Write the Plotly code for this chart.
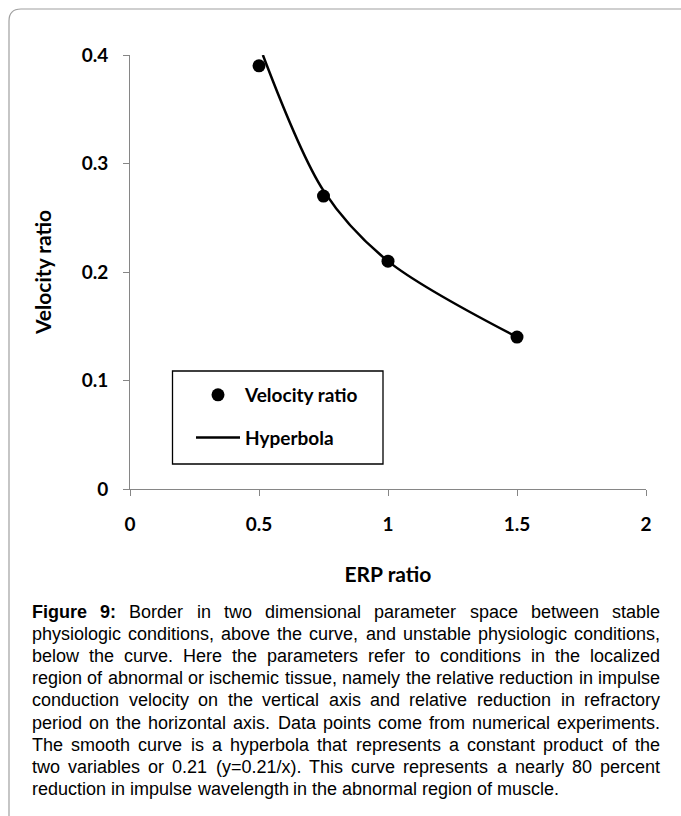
import plotly.graph_objects as go

# Results of the numerical experiments
erp_ratio = [0.5, 0.75, 1.0, 1.5]
velocity_ratio = [0.39, 0.27, 0.21, 0.14]

# Hyperbola y = 0.21/x over the plotted range (clipped at the top of the axis)
hyp_x = [0.515, 0.75, 1.0, 1.5]
hyp_y = [0.40, 0.275, 0.21, 0.14]

x_ticks = [0, 0.5, 1, 1.5, 2]
x_tick_labels = ["0", "0.5", "1", "1.5", "2"]
y_ticks = [0, 0.1, 0.2, 0.3, 0.4]
y_tick_labels = ["0", "0.1", "0.2", "0.3", "0.4"]

caption_lines = [
    "Figure 9: Border in two dimensional parameter space between stable",
    "physiologic conditions, above the curve, and unstable physiologic conditions,",
    "below the curve. Here the parameters refer to conditions in the localized",
    "region of abnormal or ischemic tissue, namely the relative reduction in impulse",
    "conduction velocity on the vertical axis and relative reduction in refractory",
    "period on the horizontal axis. Data points come from numerical experiments.",
    "The smooth curve is a hyperbola that represents a constant product of the",
    "two variables or 0.21 (y=0.21/x). This curve represents a nearly 80 percent",
    "reduction in impulse wavelength in the abnormal region of muscle.",
]
caption_bold_words = 2  # "Figure 9:" is set in bold

# ---- page geometry (pixels) ----
W, H = 681, 816
PL, PR, PT, PB = 130, 646, 55, 489


def fx(p):
    return (p - PL) / (PR - PL)


def fy(p):
    return (PB - p) / (PB - PT)


CHART_FONT = "Lato, 'Open Sans', sans-serif"
TEXT_FONT = "'Liberation Sans', Arial, sans-serif"

fig = go.Figure()

fig.add_trace(go.Scatter(
    x=erp_ratio, y=velocity_ratio, mode="markers", name="Velocity ratio",
    marker=dict(color="black", size=13), legendgroup="a", cliponaxis=False,
))
fig.add_trace(go.Scatter(
    x=hyp_x, y=hyp_y, mode="lines", name="Hyperbola",
    line=dict(color="black", width=2.5, shape="spline", smoothing=0.9),
    legendgroup="b", cliponaxis=False,
))

axis_common = dict(
    showline=True, linecolor="#868686", linewidth=1, mirror=False,
    ticks="outside", ticklen=6, tickcolor="#868686", tickwidth=1,
    showgrid=False, zeroline=False,
    tickfont=dict(family=CHART_FONT, size=19, color="black", weight="bold"),
    title_font=dict(family=CHART_FONT, size=21, color="black", weight="bold"),
    automargin=False,
)

fig.update_xaxes(range=[0, 2], tickvals=x_ticks, ticktext=x_tick_labels,
                 ticklabelstandoff=12, title_text="ERP ratio", title_standoff=33,
                 **axis_common)
fig.update_yaxes(range=[0, 0.4], tickvals=y_ticks, ticktext=y_tick_labels,
                 ticklabelstandoff=11, title_text="Velocity ratio", title_standoff=24,
                 **axis_common)

# ---- caption: justified text, word by word ----
REG = {
    ' ': 278, 'a': 556, 'b': 556, 'c': 500, 'd': 556, 'e': 556, 'f': 278, 'g': 556,
    'h': 556, 'i': 222, 'j': 222, 'k': 500, 'l': 222, 'm': 833, 'n': 556, 'o': 556,
    'p': 556, 'q': 556, 'r': 333, 's': 500, 't': 278, 'u': 556, 'v': 500, 'w': 722,
    'x': 500, 'y': 500, 'z': 500, 'B': 667, 'D': 722, 'F': 611, 'H': 722, 'T': 611,
    ',': 278, '.': 278, ':': 278, '(': 333, ')': 333, '=': 584, '/': 278,
}
BOLD = {'F': 611, 'i': 278, 'g': 611, 'u': 611, 'r': 389, 'e': 556, '9': 556, ':': 333}
for dgt in "0123456789":
    REG[dgt] = 556

CAP_SIZE = 18
CAP_LEFT, CAP_RIGHT = 31, 659
CAP_BASE0, CAP_STEP = 618, 22.1


def word_width(word, bold):
    table = BOLD if bold else REG
    return sum(table.get(ch, 556) for ch in word) * CAP_SIZE / 1000.0


annotations = []
for li, line in enumerate(caption_lines):
    words = line.split(" ")
    bold_flags = [li == 0 and wi < caption_bold_words for wi in range(len(words))]
    widths = [word_width(w, b) for w, b in zip(words, bold_flags)]
    if li < len(caption_lines) - 1:
        gap = (CAP_RIGHT - CAP_LEFT - sum(widths)) / (len(words) - 1)
    else:
        gap = REG[' '] * CAP_SIZE / 1000.0
    xpos = CAP_LEFT
    ybase = CAP_BASE0 + CAP_STEP * li
    for w, b, wd in zip(words, bold_flags, widths):
        annotations.append(dict(
            text=w, x=fx(xpos), y=fy(ybase - 6), xref="paper", yref="paper",
            xanchor="left", yanchor="middle", showarrow=False, borderpad=0,
            font=dict(family=TEXT_FONT, size=CAP_SIZE, color="black",
                      weight="bold" if b else "normal"),
        ))
        xpos += wd + gap

# ---- frame around the figure and the legend box ----
R0 = 12
frame_path = (
    f"M {fx(9)},{fy(830)} L {fx(9)},{fy(9 + R0)} "
    f"Q {fx(9)},{fy(9)} {fx(9 + R0)},{fy(9)} L {fx(700)},{fy(9)}"
)
shapes = [
    dict(type="path", path=frame_path, xref="paper", yref="paper",
         line=dict(color="#a0a0a0", width=1.2)),
    dict(type="rect", xref="paper", yref="paper",
         x0=fx(172.5), x1=fx(383), y0=fy(464), y1=fy(371),
         line=dict(color="black", width=1.3), fillcolor="rgba(0,0,0,0)"),
]

fig.update_layout(
    width=W, height=H,
    margin=dict(l=PL, r=W - PR, t=PT, b=H - PB, pad=0),
    paper_bgcolor="white", plot_bgcolor="white",
    showlegend=True,
    legend=dict(
        x=fx(191), y=fy(376), xanchor="left", yanchor="top",
        bgcolor="rgba(0,0,0,0)", borderwidth=0,
        font=dict(family=CHART_FONT, size=19, color="black", weight="bold"),
        traceorder="grouped", tracegroupgap=15, itemwidth=44,
    ),
    annotations=annotations,
    shapes=shapes,
)

fig.write_html("out.html")
